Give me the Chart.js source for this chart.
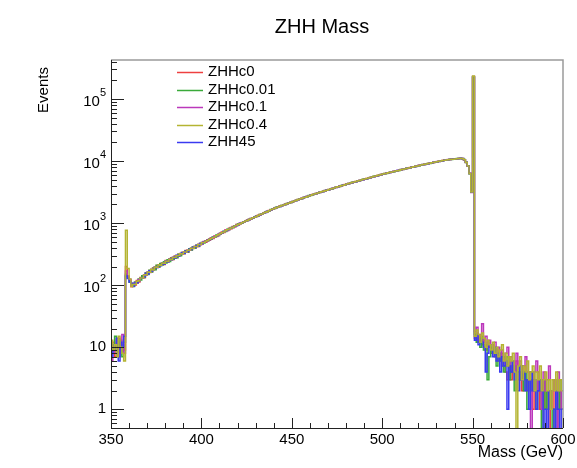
<!DOCTYPE html>
<html><head><meta charset="utf-8">
<script src="https://cdn.jsdelivr.net/npm/chart.js@4/dist/chart.umd.min.js"></script>
<style>html,body{margin:0;padding:0;background:#fff}canvas{display:block}</style>
</head><body>
<canvas id="c" width="577" height="468" style="width:577px;height:468px"></canvas>
<script>
const chartTitle = 'ZHH Mass';
const xTitle = 'Mass (GeV)';
const yTitle = 'Events';
const xMin = 350, xMax = 600, binWidth = 1;
const yMin = 0.5, yMax = 4.25e5;
const xTicks = [350, 400, 450, 500, 550, 600];
const yTickExponents = [0, 1, 2, 3, 4, 5];
const seriesNames = ['ZHHc0', 'ZHHc0.01', 'ZHHc0.1', 'ZHHc0.4', 'ZHH45'];
const seriesColors = ['#ee4040', '#3aaa3a', '#bb38bb', '#b4b432', '#3a3af0'];

// bin contents, 1 GeV bins from 350 to 600
const ZHHc0 = [9,12,7,10,14,8,11,9,
200,140,
122,94,106,101,119,113,133,139,132,158,150,172,165,190,183,208,196,222,230,216,249,238,262,277,259,295,280,314,303,335,322,362,341,386,373,410,398,442,421,471,462,
505,492,541,528,580,566,621,609,664,661,722,707,773,762,829,815,886,874,949,937,
992,1005,1053,1068,1118,1133,1187,1203,1259,1277,1337,1356,1420,1440,1507,1530,1600,1625,1699,1725,
1792,1812,1881,1902,1973,1997,2070,2096,2173,2199,2280,2309,2393,2424,2511,2545,2634,2670,2765,2802,
2890,2921,3012,3045,3139,3174,3271,3308,3409,3449,3552,3595,3702,3747,3857,3905,4020,4070,4189,4242,
4355,4403,4518,4568,4687,4741,4863,4917,5045,5104,5234,5295,5430,5493,5634,5700,5845,5914,6064,6135,
6276,6340,6480,6550,6690,6760,6910,6980,7135,7210,7370,7445,7610,7690,7855,7940,8110,8200,8375,8465,
8630,8705,8870,8950,9120,9200,9375,9460,9640,9725,9905,9995,10180,10280,10465,
10500,10610,10650,10760,10800,10910,10950,11060,10940,10480,9520,8330,6290,3180,
226000,
14,17,12,15,11,13,9,12,10,8,11,7,9,6,8,5,7,4,3,5,3,5,4,6,3,4,2,5,3,2,4,3,1,3,2,4,1,2,3,1,2,0,2,1,3,1,0,2,1];

const ZHHc0_01 = [11,8,15,10,9,13,7,12,
150,132,
112,106,95,113,107,126,121,142,134,157,149,174,163,188,177,209,196,223,212,238,228,256,241,271,262,291,277,316,297,337,324,360,342,385,368,414,397,441,424,470,489,
479,522,513,556,551,598,590,641,631,690,688,742,735,794,789,851,846,910,905,975,
977,1006,1055,1070,1101,1154,1170,1204,1262,1279,1318,1381,1400,1442,1510,1532,1578,1652,1676,1726,
1797,1812,1856,1932,1948,1995,2077,2095,2145,2234,2252,2307,2402,2421,2481,2583,2603,2668,2776,2799,
2858,2963,2979,3040,3153,3170,3235,3355,3372,3443,3569,3588,3663,3798,3817,3898,4041,4062,4147,4299,
4312,4392,4541,4557,4642,4800,4817,4906,5073,5091,5185,5361,5380,5480,5667,5686,5792,5988,6010,6121,
6314,6320,6423,6625,6632,6740,6952,6960,7073,7295,7304,7422,7655,7665,7789,8033,8043,8173,8430,8440,
8558,8806,8797,8919,9178,9169,9297,9566,9557,9690,9970,9961,10099,10393,10382,
10455,10684,10601,10834,10750,10986,10900,11140,10890,10560,9480,8390,6250,3240,
228000,
16,12,14,10,15,9,11,3,7,10,8,9,5,7,6,8,4,5,7,3,6,4,2,5,4,3,5,2,4,1,3,2,4,2,1,3,2,0,3,1,2,1,2,0,1,2,1,3,1];

const ZHHc0_1 = [6,10,8,13,7,11,16,8,
170,138,
125,97,104,110,108,124,131,130,147,145,164,160,181,176,198,192,212,210,230,224,246,240,263,258,281,275,301,295,325,317,347,340,370,366,398,392,426,420,457,449,488,
499,515,516,552,574,571,615,618,632,688,690,717,768,764,793,846,853,878,940,944,
976,1022,1037,1085,1100,1152,1168,1222,1240,1298,1316,1378,1398,1463,1484,1553,1577,1649,1674,1751,
1766,1837,1855,1928,1946,2024,2042,2124,2144,2229,2249,2339,2362,2455,2479,2577,2601,2705,2730,2838,
2856,2957,2977,3082,3103,3212,3234,3347,3371,3489,3514,3636,3663,3790,3818,3950,3980,4116,4148,4290,
4312,4450,4475,4617,4643,4790,4818,4970,5000,5157,5188,5350,5384,5551,5586,5759,5796,5975,6015,6200,
6230,6400,6430,6610,6645,6825,6860,7050,7085,7280,7315,7515,7555,7760,7800,8015,8060,8275,8320,8545,
8580,8780,8820,9025,9065,9275,9320,9535,9580,9800,9850,10075,10120,10355,10405,
10560,10560,10720,10700,10870,10860,11020,11000,11010,10430,9600,8270,6350,3120,
231000,
18,21,13,16,24,12,15,10,13,11,9,12,8,10,7,9,6,8,10,5,7,6,4,8,5,6,3,5,7,4,3,0,2,4,6,2,3,1,4,2,3,5,1,2,3,0,4,2,1];

const ZHHc0_4 = [13,9,11,7,15,10,8,6,
770,185,
126,96,103,104,116,118,130,131,146,147,163,161,180,176,197,194,214,209,228,226,242,240,261,258,279,279,298,300,321,318,344,342,367,368,394,391,422,420,452,452,485,
488,510,527,543,564,585,600,626,648,673,703,722,753,779,801,835,859,895,920,958,
981,1017,1042,1080,1106,1146,1175,1216,1247,1291,1324,1371,1406,1455,1493,1545,1586,1640,1684,1741,
1777,1827,1866,1917,1958,2012,2055,2112,2157,2216,2264,2326,2377,2441,2495,2562,2618,2689,2748,2821,
2874,2940,2996,3064,3122,3194,3254,3328,3392,3469,3535,3615,3685,3768,3840,3927,4003,4092,4172,4265,
4338,4425,4501,4591,4670,4763,4846,4942,5028,5128,5217,5320,5413,5520,5617,5727,5828,5942,6047,6165,
6259,6366,6463,6574,6674,6788,6892,7010,7117,7239,7350,7475,7590,7719,7838,7971,8094,8231,8358,8500,
8612,8738,8853,8982,9101,9234,9356,9492,9618,9758,9887,10031,10164,10312,10449,
10528,10595,10675,10744,10825,10895,10977,11047,10968,10467,9553,8315,6313,3159,
235000,
15,19,16,12,17,14,10,13,11,9,12,8,10,7,9,11,6,8,5,7,6,8,4,0,5,7,3,5,4,6,3,4,5,2,4,3,5,2,3,4,2,3,1,3,2,4,2,3,2];

const ZHH45 = [7,11,9,14,6,12,10,15,
140,128,
113,107,96,108,111,117,129,132,138,156,152,171,168,178,197,193,211,206,228,219,243,236,262,255,280,271,303,292,316,332,326,354,350,379,375,407,403,437,432,468,466,
492,505,532,541,558,590,599,619,654,671,696,733,747,771,812,829,857,900,918,950,
992,1010,1040,1086,1104,1138,1188,1208,1244,1298,1320,1362,1420,1445,1490,1554,1581,1631,1700,1729,
1772,1835,1860,1906,1973,2000,2049,2122,2150,2204,2281,2312,2370,2452,2487,2549,2636,2674,2741,2834,
2866,2927,3012,3049,3113,3206,3245,3314,3410,3453,3526,3627,3675,3752,3859,3910,3993,4106,4159,4248,
4354,4408,4487,4605,4655,4746,4866,4922,5015,5145,5202,5302,5432,5502,5604,5744,5814,5923,6069,6147,
6250,6380,6452,6560,6695,6770,6880,7025,7105,7220,7370,7455,7575,7735,7825,7950,8115,8210,8340,8515,
8600,8750,8840,8995,9090,9250,9345,9510,9605,9775,9875,10045,10150,10325,10435,
10540,10585,10690,10730,10840,10880,10990,11030,10950,10490,9570,8300,6330,3150,
224000,
13,16,11,14,12,10,4,8,11,9,7,10,6,8,4,7,5,6,1,5,4,6,3,4,2,5,3,4,2,3,1,4,2,3,1,2,3,2,0,1,0,2,1,1,0,2,1,0,1];

const seriesValues = [ZHHc0, ZHHc0_01, ZHHc0_1, ZHHc0_4, ZHH45];
const drawOrder = [4, 3, 2, 0, 1];

function toSteps(vals) {
  const pts = vals.map((v, i) => ({ x: xMin + i * binWidth, y: v > 0 ? v : yMin / 10 }));
  const last = vals[vals.length - 1];
  pts.push({ x: xMin + vals.length * binWidth, y: last > 0 ? last : yMin / 10 });
  return pts;
}

const FONT = "'Liberation Sans', Arial, Helvetica, sans-serif";

const rootAxes = {
  id: 'rootAxes',
  afterDraw(chart) {
    const ctx = chart.ctx, a = chart.chartArea, xs = chart.scales.x, ys = chart.scales.y;
    ctx.save();
    ctx.strokeStyle = '#9a9a9a'; ctx.lineWidth = 1.5;
    ctx.beginPath(); ctx.moveTo(a.left, a.top); ctx.lineTo(a.right, a.top); ctx.lineTo(a.right, a.bottom); ctx.stroke();
    ctx.strokeStyle = '#222'; ctx.lineWidth = 1;
    ctx.beginPath(); ctx.moveTo(a.left + 0.5, a.top); ctx.lineTo(a.left + 0.5, a.bottom + 0.5); ctx.lineTo(a.right, a.bottom + 0.5); ctx.stroke();
    ctx.beginPath();
    for (let v = xMin; v <= xMax; v += 10) {
      const px = Math.round(xs.getPixelForValue(v)) + 0.5;
      const len = xTicks.includes(v) ? 10 : 5;
      ctx.moveTo(px, a.bottom); ctx.lineTo(px, a.bottom - len);
    }
    for (let e = -1; e <= 5; e++) {
      for (let k = 1; k <= 9; k++) {
        const v = k * Math.pow(10, e);
        if (v < yMin || v > yMax) continue;
        const py = Math.round(ys.getPixelForValue(v)) + 0.5;
        const len = k === 1 ? 13 : 6;
        ctx.moveTo(a.left, py); ctx.lineTo(a.left + len, py);
      }
    }
    ctx.stroke();
    ctx.fillStyle = '#000';
    ctx.font = '15px ' + FONT;
    ctx.textAlign = 'center'; ctx.textBaseline = 'middle';
    xTicks.forEach(v => ctx.fillText(String(v), xs.getPixelForValue(v), a.bottom + 12));
    const rx = a.left - 5;
    yTickExponents.forEach(e => {
      const py = ys.getPixelForValue(Math.pow(10, e));
      ctx.textAlign = 'right'; ctx.textBaseline = 'middle';
      if (e <= 1) {
        ctx.font = '15px ' + FONT;
        ctx.fillText(e === 0 ? '1' : '10', rx, py);
      } else {
        ctx.font = '11px ' + FONT;
        const sup = String(e);
        const sw = ctx.measureText(sup).width;
        ctx.fillText(sup, rx, py - 6);
        ctx.font = '15px ' + FONT;
        ctx.fillText('10', rx - sw, py + 3);
      }
    });
    ctx.font = '16px ' + FONT;
    ctx.textAlign = 'right'; ctx.textBaseline = 'middle';
    ctx.fillText(xTitle, a.right, 453);
    ctx.save();
    ctx.translate(44, 90); ctx.rotate(-Math.PI / 2);
    ctx.font = '15px ' + FONT; ctx.textAlign = 'center';
    ctx.fillText(yTitle, 0, 0);
    ctx.restore();
    ctx.font = '20px ' + FONT; ctx.textAlign = 'center';
    ctx.fillText(chartTitle, 322, 27);
    ctx.font = '15px ' + FONT; ctx.textAlign = 'left';
    chart.data.datasets.forEach((ds, i) => {
      const y = 72 + i * 17.5;
      ctx.strokeStyle = ds.borderColor; ctx.lineWidth = 1.5;
      ctx.beginPath(); ctx.moveTo(177, Math.round(y) + 0.5); ctx.lineTo(203, Math.round(y) + 0.5); ctx.stroke();
      ctx.fillStyle = '#000';
      ctx.fillText(ds.label, 208, y);
    });
    ctx.restore();
  }
};

new Chart(document.getElementById('c'), {
  type: 'line',
  data: {
    datasets: seriesNames.map((name, i) => ({
      label: name,
      data: toSteps(seriesValues[i]),
      borderColor: seriesColors[i],
      borderWidth: 1.5,
      pointRadius: 0,
      stepped: 'before',
      fill: false,
      order: drawOrder[i]
    }))
  },
  options: {
    responsive: false,
    animation: false,
    devicePixelRatio: 1,
    layout: { padding: { left: 111, top: 60, right: 14, bottom: 40 } },
    plugins: { legend: { display: false }, title: { display: false }, tooltip: { enabled: false } },
    scales: {
      x: { type: 'linear', min: xMin, max: xMax, display: false },
      y: { type: 'logarithmic', min: yMin, max: yMax, display: false }
    }
  },
  plugins: [rootAxes]
});
</script>
</body></html>
